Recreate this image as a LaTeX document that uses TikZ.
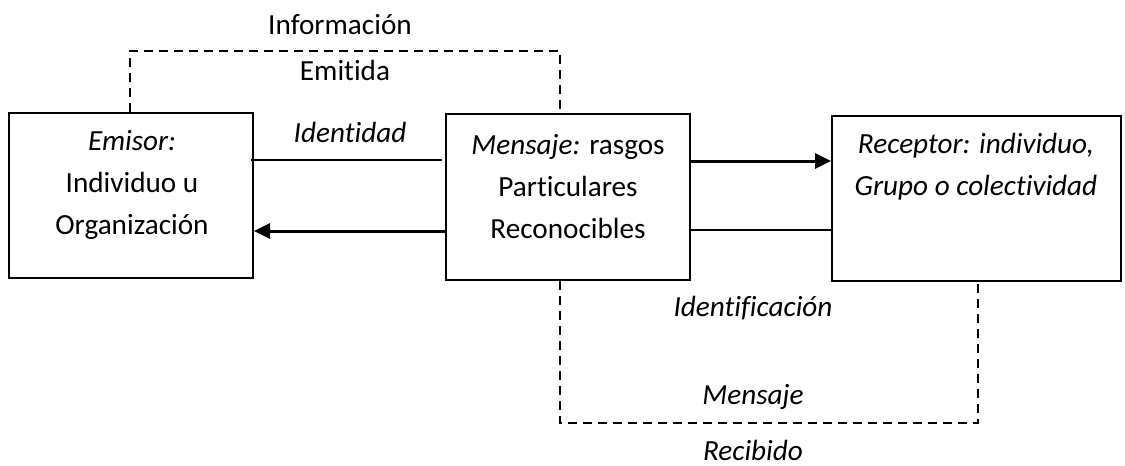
\documentclass[tikz,border=0pt]{standalone}
\usepackage{fontspec}
\setmainfont[Ligatures=NoCommon]{Carlito}
\usetikzlibrary{arrows.meta}

\tikzset{
  caja/.style={draw, line width=1pt, rectangle, inner sep=0pt},
  texto/.style={align=center, inner sep=0pt, font=\fontsize{14.6}{21}\selectfont},
  linea/.style={line width=0.8pt},
  flecha/.style={line width=1.5pt, -{Triangle[length=8pt, width=7.5pt]}},
  discontinua/.style={line width=1pt, dash pattern=on 4.5pt off 3pt}
}

\begin{document}
\begin{tikzpicture}[x=0.5pt, y=-0.5pt]
        \useasboundingbox (0,0) rectangle (1125,466);

        % Cajas
        \node (emisor) at (131,195.5) [caja, minimum width=122pt, minimum height=82.5pt] {};
        \node (mensaje) at (568,197) [caja, minimum width=122pt, minimum height=83pt] {};
        \node (receptor) at (976.5,198.5) [caja, minimum width=144.5pt, minimum height=82.5pt] {};

        % Textos de las cajas
        \node (emtxt) at (132,185) [texto] {\textit{Emisor:}\\Individuo u\\Organización};
        \node (metxt) at (568,186.5) [texto] {\textit{Mensaje:} rasgos\\Particulares\\Reconocibles};
        \node (retxt) at (976,167) [texto] {\textit{Receptor: individuo,}\\\textit{Grupo o colectividad}};

        % Etiquetas
        \node (info) at (340,25) [texto] {Información};
        \node (emit) at (345,70) [texto] {Emitida};
        \node (ident) at (350,132) [texto] {\textit{Identidad}};
        \node (identif) at (753,308) [texto] {\textit{Identificación}};
        \node (mens) at (753,397) [texto] {\textit{Mensaje}};
        \node (recib) at (753,450) [texto] {\textit{Recibido}};

        % Esquinas de las lineas discontinuas
        \coordinate (infoE) at (130,51);
        \coordinate (recM) at (560,423);

        % Collegamenti
        \draw[linea] ([xshift=-1.5pt, yshift=17.75pt]emisor.east) -- ([xshift=-1.5pt, yshift=18.5pt]mensaje.west);
        \draw[flecha] ([yshift=-17pt]mensaje.west) -- ([yshift=-17.75pt]emisor.east);
        \draw[flecha] ([yshift=18pt]mensaje.east) -- ([yshift=18.75pt]receptor.west);
        \draw[linea] ([yshift=-16.5pt]mensaje.east) -- ([yshift=-15.75pt]receptor.west);
        \draw[discontinua] (emisor.north -| infoE) -- (infoE) -| ([xshift=-4pt]mensaje.north);
        \draw[discontinua] ([xshift=-4pt]mensaje.south) |- (recM) -| ([xshift=0.75pt]receptor.south);
    \end{tikzpicture}
\end{document}
